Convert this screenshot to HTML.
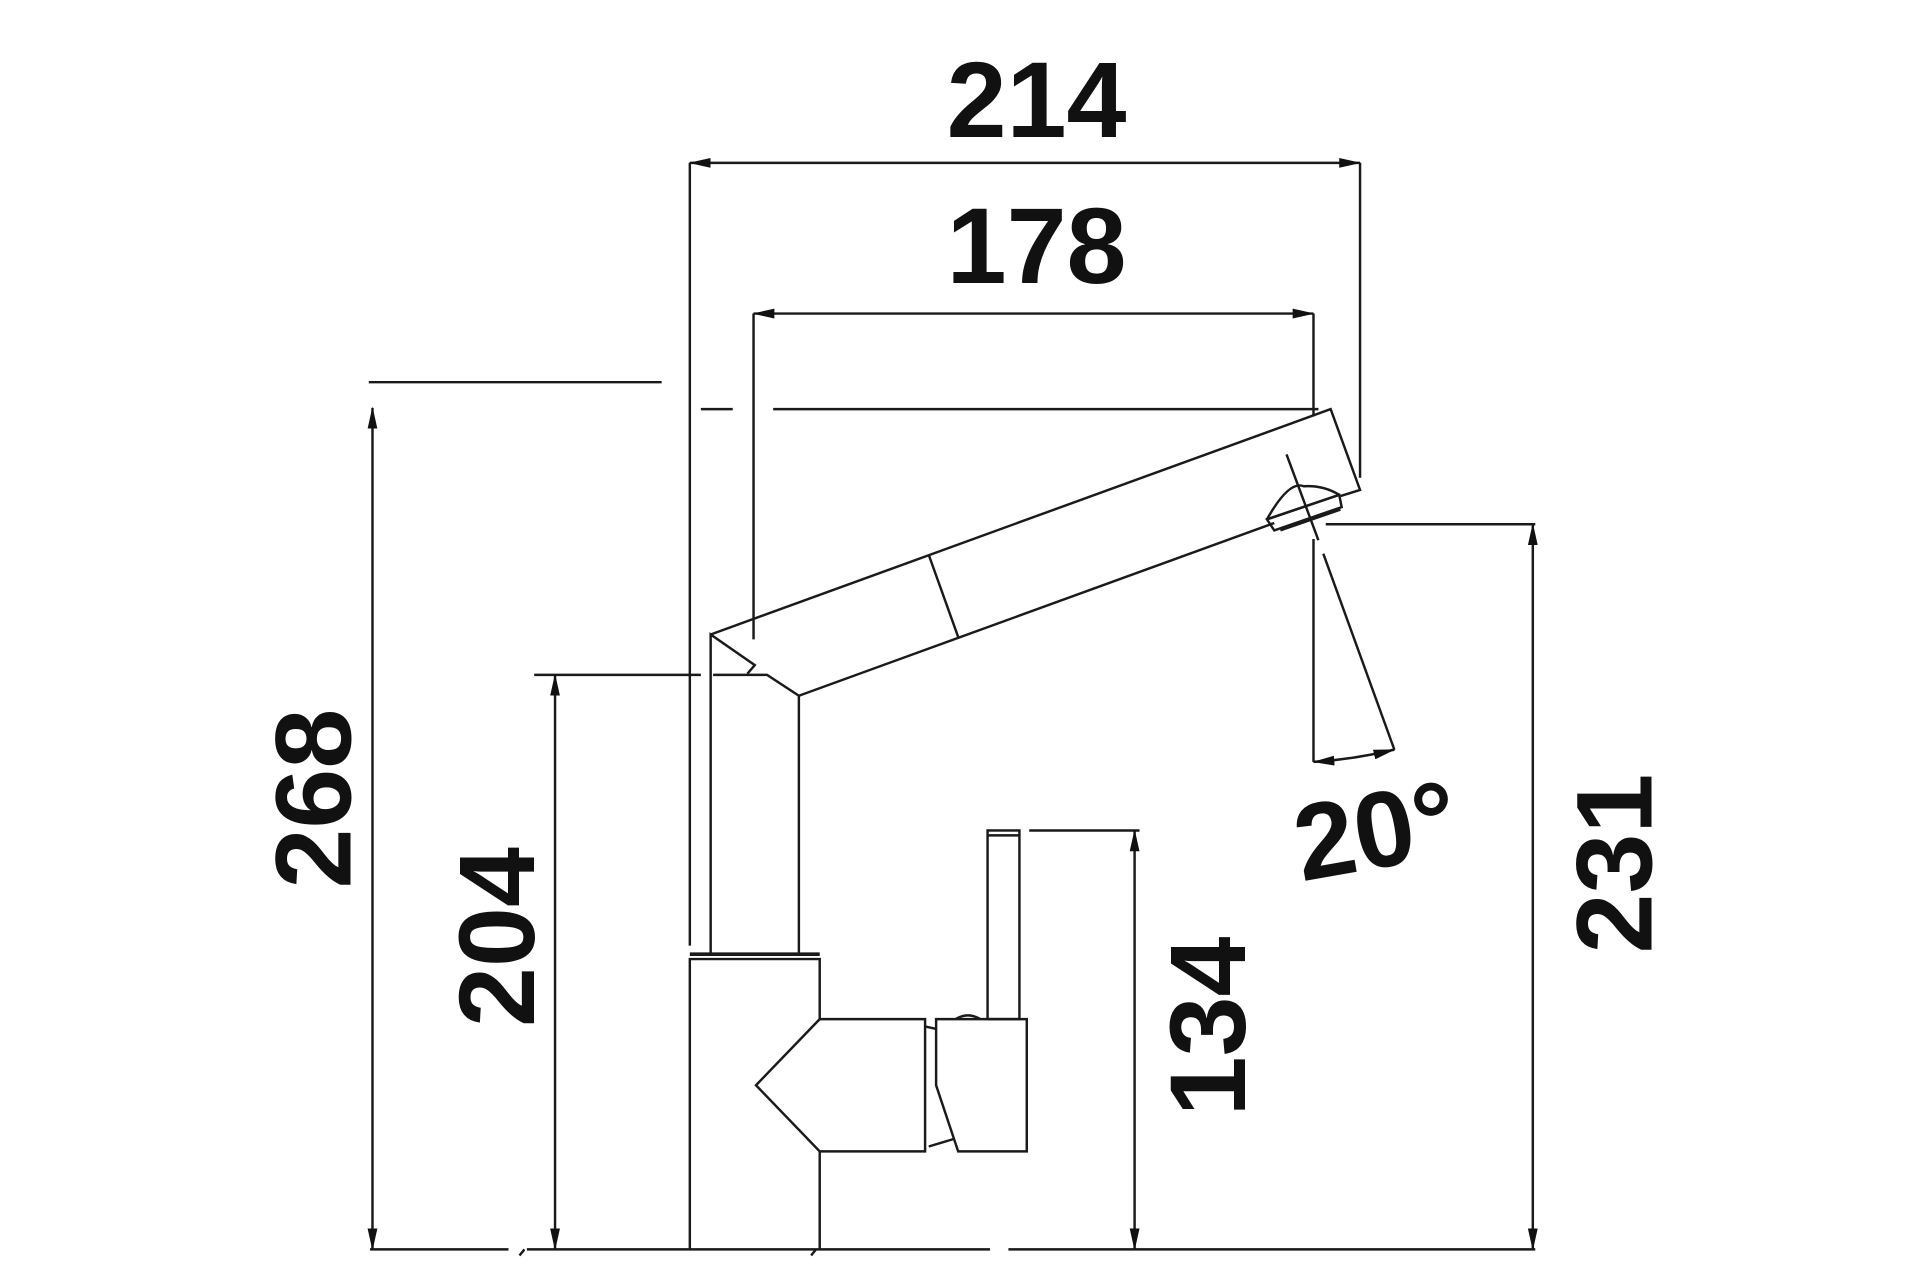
<!DOCTYPE html>
<html><head><meta charset="utf-8"><style>
html,body{margin:0;padding:0;background:#fff;}
svg{display:block;}
text{font-family:"Liberation Sans",sans-serif;font-weight:bold;fill:#111;}
</style></head><body>
<svg width="1920" height="1280" viewBox="0 0 1567 1045" preserveAspectRatio="none" xmlns="http://www.w3.org/2000/svg">
<defs>
<marker id="a" markerWidth="18" markerHeight="8" refX="17" refY="4" orient="auto-start-reverse" markerUnits="userSpaceOnUse">
<path d="M0,0 L18,4 L0,8 Z" fill="#111"/></marker>
</defs>
<g stroke="#1a1a1a" stroke-width="2" fill="none">
<line x1="563" y1="133" x2="1110" y2="133" marker-start="url(#a)" marker-end="url(#a)"/>
<line x1="563" y1="133" x2="563" y2="772"/>
<line x1="1110" y1="133" x2="1110" y2="390"/>
<line x1="615" y1="256" x2="1072" y2="256" marker-start="url(#a)" marker-end="url(#a)"/>
<line x1="615" y1="256" x2="615" y2="522"/>
<line x1="1072" y1="256" x2="1072" y2="340"/>
<line x1="1072" y1="440" x2="1072" y2="622"/>
<line x1="301" y1="312" x2="540" y2="312"/>
<line x1="572" y1="334" x2="598" y2="334"/>
<line x1="631" y1="334" x2="1076" y2="334"/>
<polyline points="580,518 1086,334 1110,400 1094,405"/>
<line x1="652" y1="568" x2="1040" y2="427"/>
<line x1="758" y1="453" x2="782" y2="520"/>
<polyline points="580,780 580,518 616,543 610,550"/>
<polyline points="582,551 626,551 652,568 652,780"/>
<line x1="436" y1="551" x2="572" y2="551"/>
<path d="M1034,424 Q1052,392 1064,397 Q1080,396 1093,404"/>
<polygon points="1034,424 1040,433 1095,414 1093,404"/>
<line x1="1045" y1="433" x2="1094" y2="416"/>
<line x1="1034" y1="424" x2="1093" y2="404"/>
<line x1="1050" y1="371" x2="1076" y2="441"/>
<line x1="1080" y1="452" x2="1138" y2="612"/>
<path d="M1072,622 Q1105,620 1138,612" marker-start="url(#a)" marker-end="url(#a)"/>
<line x1="563" y1="779" x2="669" y2="779" stroke-width="3"/>
<polyline points="563,1020 563,783 669,783 669,832"/>
<line x1="669" y1="940" x2="669" y2="1020"/>
<polygon points="669,832 755,832 755,940 669,940 617,886"/>
<polygon points="764,832 838,832 838,940 782,940 764,886"/>
<line x1="755" y1="838" x2="764" y2="840"/>
<line x1="758" y1="936" x2="778" y2="930"/>
<path d="M780,832 Q790,826 800,832"/>
<rect x="806" y="678" width="26" height="154"/>
<line x1="806" y1="682" x2="832" y2="682"/>
<line x1="840" y1="678" x2="930" y2="678"/>
<line x1="926" y1="678" x2="926" y2="1020" marker-start="url(#a)" marker-end="url(#a)"/>
<line x1="453" y1="551" x2="453" y2="1020" marker-start="url(#a)" marker-end="url(#a)"/>
<line x1="304" y1="333" x2="304" y2="1020" marker-start="url(#a)" marker-end="url(#a)"/>
<line x1="1251" y1="428" x2="1251" y2="1020" marker-start="url(#a)" marker-end="url(#a)"/>
<line x1="1082" y1="428" x2="1253" y2="428"/>
<line x1="302" y1="1020" x2="415" y2="1020"/>
<line x1="430" y1="1020" x2="808" y2="1020"/>
<line x1="823" y1="1020" x2="1253" y2="1020"/>
<line x1="424" y1="1025" x2="428" y2="1020"/>
<line x1="662" y1="1025" x2="666" y2="1020"/>
</g>
<g font-size="88">
<text x="846" y="112" text-anchor="middle">214</text>
<text x="846" y="231" text-anchor="middle">178</text>
<text transform="translate(286,652) rotate(-90)" text-anchor="middle">268</text>
<text transform="translate(436,765) rotate(-90)" text-anchor="middle">204</text>
<text transform="translate(1016,838) rotate(-90)" text-anchor="middle">134</text>
<text transform="translate(1348,705) rotate(-90)" text-anchor="middle">231</text>
<text transform="translate(1128,708) rotate(-10)" text-anchor="middle">20°</text>
</g>
</svg>
</body></html>
